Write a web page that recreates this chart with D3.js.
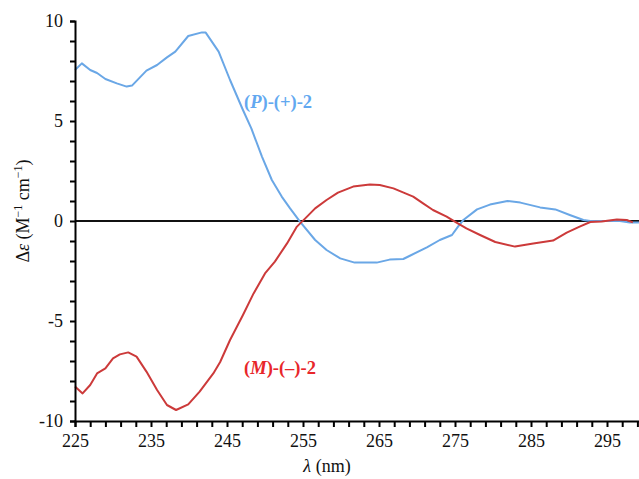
<!DOCTYPE html>
<html>
<head>
<meta charset="utf-8">
<script src="https://cdn.jsdelivr.net/npm/d3@7"></script>
<style>
  html, body { margin: 0; padding: 0; background: #fff; }
  svg { display: block; }
  text { font-family: "Liberation Serif", "Times New Roman", serif; }
</style>
</head>
<body>
<svg id="chart" width="639" height="479"></svg>
<script>
// CD spectra of the two enantiomers of compound 2
const pWavelength = [225.0, 225.9, 227.0, 227.9, 229.0, 230.5, 231.8, 232.5, 234.4, 235.8, 237.1, 238.2, 239.9, 241.7, 242.2, 243.9, 245.4, 247.1, 248.2, 249.6, 250.9, 252.2, 253.3, 254.6, 256.6, 258.1, 259.9, 261.8, 264.7, 266.4, 268.2, 269.0, 271.3, 273.0, 274.6, 275.4, 276.1, 277.9, 279.6, 281.9, 283.6, 286.2, 288.2, 290.1, 291.9, 292.8, 296.7, 298.0, 299.2];
const pDelta = [7.55, 7.88, 7.55, 7.40, 7.10, 6.88, 6.72, 6.77, 7.52, 7.80, 8.18, 8.47, 9.25, 9.43, 9.42, 8.47, 7.05, 5.55, 4.63, 3.22, 2.05, 1.22, 0.63, -0.03, -0.95, -1.45, -1.87, -2.08, -2.08, -1.93, -1.90, -1.75, -1.32, -0.95, -0.70, -0.28, 0.05, 0.58, 0.82, 1.00, 0.92, 0.68, 0.58, 0.30, 0.05, 0.00, 0.00, -0.07, -0.07];

const mWavelength = [225.0, 226.0, 227.0, 227.9, 229.0, 230.0, 230.9, 232.0, 233.1, 234.4, 235.8, 237.1, 238.3, 239.9, 241.4, 243.2, 244.1, 245.4, 247.1, 248.5, 250.0, 251.3, 252.9, 254.2, 255.3, 256.6, 258.1, 259.6, 261.6, 263.8, 265.1, 266.9, 269.5, 270.8, 272.1, 273.9, 275.2, 276.5, 278.3, 280.3, 282.9, 285.3, 287.9, 289.7, 291.4, 292.8, 294.3, 296.3, 297.6, 298.4];
const mDelta = [-8.28, -8.62, -8.20, -7.62, -7.37, -6.87, -6.67, -6.57, -6.78, -7.53, -8.45, -9.20, -9.45, -9.17, -8.53, -7.62, -7.05, -5.95, -4.70, -3.62, -2.62, -2.03, -1.12, -0.28, 0.13, 0.63, 1.05, 1.42, 1.72, 1.83, 1.80, 1.63, 1.22, 0.88, 0.55, 0.22, -0.08, -0.37, -0.70, -1.05, -1.28, -1.12, -0.98, -0.58, -0.28, -0.05, -0.03, 0.08, 0.05, -0.07];

const xTickLabels = [225, 235, 245, 255, 265, 275, 285, 295];
const yTickLabels = [10, 5, 0, -5, -10];

const svg = d3.select("#chart");

const x = d3.scaleLinear().domain([225, 300]).range([75, 645]);
const y = d3.scaleLinear().domain([-10, 10]).range([421, 21]);

const blue = "#6aa7e6";
const red = "#cc3a3a";

// zero line
svg.append("line")
  .attr("x1", x(225)).attr("x2", x(300))
  .attr("y1", y(0)).attr("y2", y(0))
  .attr("stroke", "#111").attr("stroke-width", 2);

const line = d3.line()
  .x(d => x(d[0]))
  .y(d => y(d[1]));

const pData = pWavelength.map((w, i) => [w, pDelta[i]]);
const mData = mWavelength.map((w, i) => [w, mDelta[i]]);

svg.append("path").datum(pData)
  .attr("d", line).attr("fill", "none")
  .attr("stroke", blue).attr("stroke-width", 2).attr("stroke-linejoin", "round");

svg.append("path").datum(mData)
  .attr("d", line).attr("fill", "none")
  .attr("stroke", red).attr("stroke-width", 2).attr("stroke-linejoin", "round");

// x axis: ticks every 2 nm, labels every 10 nm
const xAxis = d3.axisBottom(x)
  .tickValues(d3.range(225, 300, 2))
  .tickSize(6)
  .tickFormat(d => xTickLabels.includes(d) ? d : "");
const gx = svg.append("g").attr("transform", `translate(0,${y(-10)})`).call(xAxis);
gx.select(".domain").attr("stroke", "#000").attr("stroke-width", 2);
gx.selectAll(".tick line").attr("stroke", "#000").attr("stroke-width", 2);
gx.selectAll(".tick text")
  .attr("font-size", 18).attr("fill", "#111")
  .attr("y", 13).attr("dy", "0.71em");

// y axis: ticks every 1 unit, labels every 5
const yAxis = d3.axisLeft(y)
  .tickValues(d3.range(-10, 11, 1))
  .tickSize(5)
  .tickFormat(d => yTickLabels.includes(d) ? d : "");
const gy = svg.append("g").attr("transform", `translate(${x(225)},0)`).call(yAxis);
gy.select(".domain").attr("stroke", "#000").attr("stroke-width", 2);
gy.selectAll(".tick line").attr("stroke", "#000").attr("stroke-width", 2);
gy.selectAll(".tick text")
  .attr("font-size", 18).attr("fill", "#111")
  .attr("x", -12);

// axis titles
const yTitle = svg.append("text")
  .attr("transform", "translate(29,211) rotate(-90)")
  .attr("text-anchor", "middle")
  .attr("font-size", 18).attr("fill", "#111");
yTitle.append("tspan").text("Δ");
yTitle.append("tspan").attr("font-style", "italic").text("ε");
yTitle.append("tspan").text(" (M");
yTitle.append("tspan").attr("font-size", 12).attr("dy", -7).text("−1");
yTitle.append("tspan").attr("dy", 7).text(" cm");
yTitle.append("tspan").attr("font-size", 12).attr("dy", -7).text("−1");
yTitle.append("tspan").attr("dy", 7).text(")");

const xTitle = svg.append("text")
  .attr("x", 327).attr("y", 472)
  .attr("text-anchor", "middle")
  .attr("font-size", 18).attr("fill", "#111");
xTitle.append("tspan").attr("font-style", "italic").text("λ");
xTitle.append("tspan").text(" (nm)");

// series labels
const pLabel = svg.append("text")
  .attr("x", 244).attr("y", 108)
  .attr("font-size", 18.5).attr("font-weight", "bold").attr("fill", "#62a8f0");
pLabel.append("tspan").text("(");
pLabel.append("tspan").attr("font-style", "italic").text("P");
pLabel.append("tspan").text(")-(+)-2");

const mLabel = svg.append("text")
  .attr("x", 244).attr("y", 374)
  .attr("font-size", 18.5).attr("font-weight", "bold").attr("fill", "#e8262a");
mLabel.append("tspan").text("(");
mLabel.append("tspan").attr("font-style", "italic").text("M");
mLabel.append("tspan").text(")-(–)-2");
</script>
</body>
</html>
